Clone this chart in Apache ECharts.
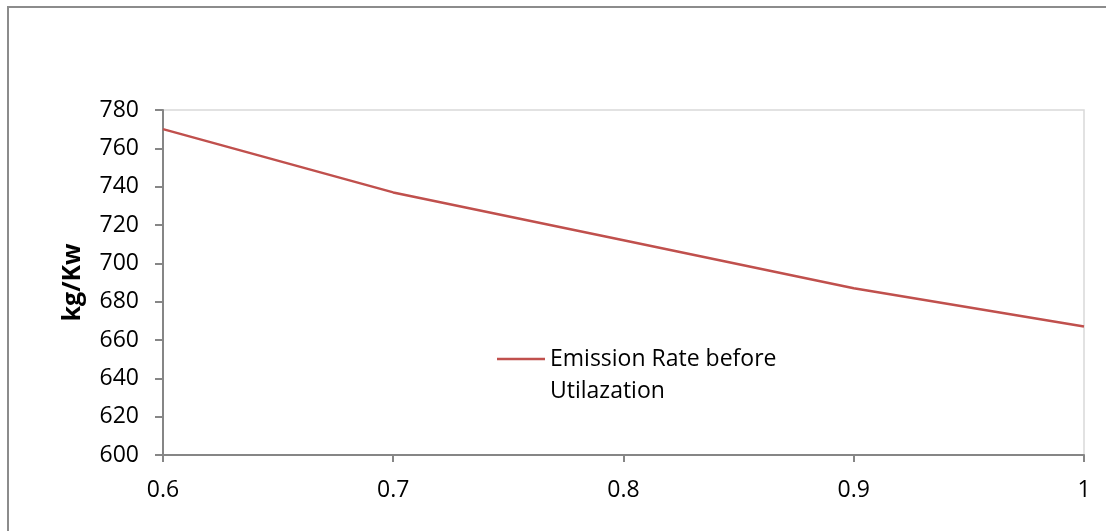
<!DOCTYPE html>
<html>
<head>
<meta charset="utf-8">
<script src="https://cdn.jsdelivr.net/npm/echarts@6/dist/echarts.min.js"></script>
<style>
  html, body { margin: 0; padding: 0; background: #fff; }
  #chart { width: 1106px; height: 531px; }
</style>
</head>
<body>
<div id="chart"></div>
<script>
// Emission rate (kg/Kw) against load factor
const loadFactor = [0.6, 0.7, 0.8, 0.9, 1.0];
const emissionBefore = [770, 737, 712, 687, 667];
const seriesName = 'Emission Rate before Utilazation';
const yAxisTitle = 'kg/Kw';

const FONT = '"Open Sans", "Noto Sans", sans-serif';

const chart = echarts.init(document.getElementById('chart'), null, { renderer: 'canvas' });

chart.setOption({
  animation: false,
  backgroundColor: '#ffffff',
  graphic: [
    {
      type: 'rect',
      shape: { x: 8, y: 7, width: 1110, height: 540 },
      style: { fill: 'none', stroke: '#8c8c8c', lineWidth: 2 },
      silent: true,
      z: -10
    }
  ],
  grid: {
    left: 163,
    right: 22,
    top: 110,
    bottom: 76,
    show: true,
    borderColor: '#d9d9d9',
    borderWidth: 1.5,
    backgroundColor: 'transparent'
  },
  legend: {
    left: 497,
    top: 311,
    padding: 0,
    itemWidth: 48,
    itemHeight: 2.5,
    data: [{ name: seriesName, icon: 'rect' }],
    // blank first line keeps the key line level with the first text line
    formatter: function () { return ' \nEmission Rate before\nUtilazation'; },
    textStyle: {
      fontFamily: FONT,
      fontSize: 23,
      color: '#000',
      lineHeight: 32
    }
  },
  xAxis: {
    type: 'value',
    min: 0.6,
    max: 1.0,
    interval: 0.1,
    splitLine: { show: false },
    axisLine: { show: true, lineStyle: { color: '#868686', width: 2 } },
    axisTick: { show: true, length: 7, lineStyle: { color: '#868686', width: 2 } },
    axisLabel: {
      margin: 24,
      fontFamily: FONT,
      fontSize: 23,
      color: '#000',
      formatter: function (v) { return String(Math.round(v * 10) / 10); }
    }
  },
  yAxis: {
    type: 'value',
    min: 600,
    max: 780,
    interval: 20,
    name: yAxisTitle,
    nameLocation: 'middle',
    nameGap: 78,
    nameRotate: 90,
    nameTextStyle: {
      fontFamily: FONT,
      fontSize: 25,
      fontWeight: 'bold',
      color: '#000'
    },
    splitLine: { show: false },
    axisLine: { show: true, lineStyle: { color: '#868686', width: 2 } },
    axisTick: { show: true, length: 8, lineStyle: { color: '#868686', width: 2 } },
    axisLabel: {
      margin: 24,
      fontFamily: FONT,
      fontSize: 23,
      color: '#000'
    }
  },
  series: [
    {
      name: seriesName,
      type: 'line',
      data: loadFactor.map(function (x, i) { return [x, emissionBefore[i]]; }),
      showSymbol: false,
      symbol: 'none',
      lineStyle: { color: '#c0504d', width: 2.5 },
      itemStyle: { color: '#c0504d' }
    }
  ]
});
</script>
</body>
</html>
